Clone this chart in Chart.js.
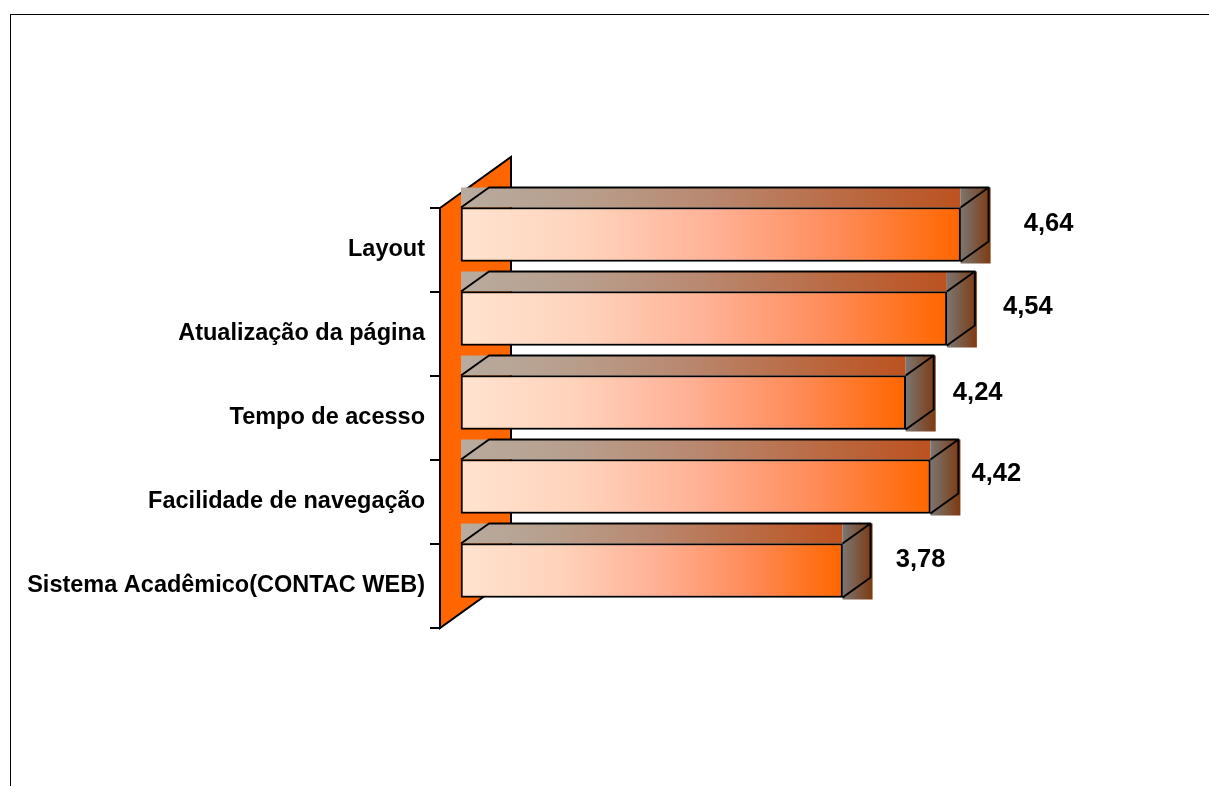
<!DOCTYPE html>
<html>
<head>
  <meta charset="utf-8">
  <title>Avaliação do Sistema Acadêmico</title>
  <script src="https://cdn.jsdelivr.net/npm/chart.js"></script>
  <style>
    body { margin: 0; background: #fff; }
    #frame { position: absolute; left: 10px; top: 14px; width: 1199px; height: 772px;
             border-top: 1px solid #000; border-left: 1px solid #000; box-sizing: border-box; }
    canvas { position: absolute; left: 0; top: 0; }
  </style>
</head>
<body>
  <div id="frame"></div>
  <canvas id="chart" width="1209" height="786"></canvas>
  <script>
    const categories = ['Layout', 'Atualização da página', 'Tempo de acesso', 'Facilidade de navegação', 'Sistema Acadêmico(CONTAC WEB)'];
    const notas = [4.64, 4.54, 4.24, 4.42, 3.78];

    // where each value label sits, relative to the end of its bar
    const labelShift = [[88, -11], [81, -12], [72, -10], [66, -13], [78, -11]];

    const axisMin = 1, axisMax = 5;
    const depthX = 28, depthY = 20;       // depth of a bar
    const wallX = 71, wallY = 51;         // depth of the wall
    const barShiftX = 21, barShiftY = -15.5;

    const frontColors = ['#FFE3CF', '#FFD3BC', '#FFB297', '#FF8C5A', '#FF6600'];
    const topColors = ['#B8AB9E', '#B89E8C', '#B98870', '#BA6C46', '#BC5220'];
    const sideColors = ['#7A7672', '#7E3A10'];

    function hGradient(c, x0, x1, colors) {
      const g = c.createLinearGradient(x0, 0, x1, 0);
      colors.forEach((col, i) => g.addColorStop(i / (colors.length - 1), col));
      return g;
    }

    const bars3d = {
      id: 'bars3d',
      beforeDraw(chart) {
        const c = chart.ctx, a = chart.chartArea;
        c.save();
        c.beginPath();
        c.moveTo(a.left, a.top);
        c.lineTo(a.left + wallX, a.top - wallY);
        c.lineTo(a.left + wallX, a.bottom - wallY);
        c.lineTo(a.left, a.bottom);
        c.closePath();
        c.fillStyle = '#FF6600';
        c.fill();
        c.strokeStyle = '#000';
        c.lineWidth = 2;
        c.stroke();
        c.restore();
      },
      beforeDatasetsDraw(chart) {
        const c = chart.ctx;
        c.save();
        c.translate(barShiftX, barShiftY);
        chart.getDatasetMeta(0).data.forEach((bar) => {
          const left = bar.base, right = bar.x;
          const top = bar.y - bar.height / 2, bottom = bar.y + bar.height / 2;
          // the gradients fill the whole bounding box, as in the original
          c.fillStyle = hGradient(c, left, right, topColors);
          c.fillRect(left, top - depthY, right - left, depthY);
          c.fillStyle = hGradient(c, right, right + depthX + 2, sideColors);
          c.fillRect(right, top - depthY, depthX + 2, bar.height + depthY + 2);
          c.strokeStyle = '#000';
          c.lineWidth = 2;
          c.lineJoin = 'round';
          c.beginPath();
          c.moveTo(left, top);
          c.lineTo(left + depthX, top - depthY);
          c.lineTo(right + depthX, top - depthY);
          c.lineTo(right + depthX, bottom - depthY);
          c.lineTo(right, bottom);
          c.moveTo(right, top);
          c.lineTo(right + depthX, top - depthY);
          c.stroke();
        });
      },
      afterDatasetsDraw(chart) {
        const c = chart.ctx;
        c.restore();
        c.save();
        c.fillStyle = '#000';
        c.font = 'bold 25.5px "Liberation Sans"';
        c.textAlign = 'center';
        c.textBaseline = 'middle';
        chart.getDatasetMeta(0).data.forEach((bar, i) => {
          const text = notas[i].toFixed(2).replace('.', ',');
          c.fillText(text, bar.x + barShiftX + labelShift[i][0], bar.y + barShiftY + labelShift[i][1]);
        });
        c.restore();
      }
    };

    new Chart(document.getElementById('chart'), {
      type: 'bar',
      data: {
        labels: categories,
        datasets: [{
          data: notas,
          base: axisMin,
          clip: false,
          borderColor: '#000',
          borderWidth: 2,
          borderSkipped: false,
          barThickness: 54,
          backgroundColor(ctx) {
            const x = ctx.chart.scales.x;
            if (!x || !ctx.parsed) return '#FF6600';
            const x0 = x.left, x1 = x.getPixelForValue(ctx.parsed.x);
            if (!Number.isFinite(x0) || !Number.isFinite(x1)) return '#FF6600';
            return hGradient(ctx.chart.ctx, x0, x1, frontColors);
          }
        }]
      },
      plugins: [bars3d],
      options: {
        indexAxis: 'y',
        responsive: false,
        animation: false,
        layout: { padding: { left: 0, right: 220, top: 208, bottom: 158 } },
        plugins: { legend: { display: false }, tooltip: { enabled: false } },
        scales: {
          x: { display: false, min: axisMin, max: axisMax },
          y: {
            afterFit(scale) { scale.width = 440; },
            border: { color: '#000', width: 2 },
            grid: { drawOnChartArea: false, drawTicks: true, tickLength: 10, color: '#000', lineWidth: 2 },
            ticks: {
              autoSkip: false,
              padding: 5,
              color: '#000',
              font: { family: '"Liberation Sans"', size: 23.5, weight: 'bold' }
            }
          }
        }
      }
    });
  </script>
</body>
</html>
